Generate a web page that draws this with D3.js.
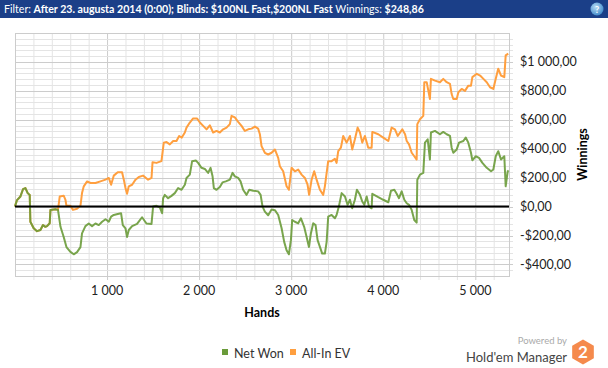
<!DOCTYPE html>
<html>
<head>
<meta charset="utf-8">
<script src="https://cdn.jsdelivr.net/npm/d3@7"></script>
<style>
  body { margin: 0; background: #fff; font-family: "Segoe UI", Lato, "Noto Sans", sans-serif; }
  #chart-area { width: 608px; height: 368px; }
</style>
</head>
<body>
<div id="chart-area"></div>
<script>
// header text
var filterParts = [
    { t: "Filter: ", b: false },
    { t: "After 23. augusta 2014 (0:00); Blinds: $100NL Fast,$200NL Fast", b: true },
    { t: " Winnings: ", b: false },
    { t: "$248,86", b: true }
];

var seriesNames = ["Net Won", "All-In EV"];
var seriesColors = ["#6a9b3a", "#ff9f3f"];

// Net Won (hands, $)
var netHands = [0, 4, 22, 59, 87, 113, 138, 160, 167, 203, 239, 276, 304, 330, 348, 377, 385, 439, 467,
    494, 529, 559, 602, 638, 674, 711, 728, 765, 801, 837, 874, 910, 946, 983, 1019, 1044, 1073, 1116,
    1152, 1171, 1200, 1217, 1236, 1272, 1326, 1380, 1428, 1483, 1500, 1537, 1573, 1598, 1609, 1627,
    1663, 1700, 1736, 1772, 1809, 1845, 1863, 1899, 1924, 1964, 1989, 2026, 2062, 2098, 2124, 2146,
    2160, 2189, 2225, 2254, 2290, 2334, 2363, 2388, 2424, 2450, 2478, 2515, 2544, 2587, 2641, 2668,
    2689, 2714, 2750, 2787, 2823, 2859, 2896, 2924, 2950, 2975, 2997, 3011, 3040, 3076, 3106, 3141,
    3167, 3193, 3214, 3239, 3265, 3287, 3312, 3337, 3366, 3385, 3402, 3439, 3475, 3493, 3518, 3548,
    3584, 3613, 3638, 3663, 3692, 3714, 3747, 3772, 3794, 3820, 3845, 3874, 3881, 3946, 4000, 4055,
    4084, 4120, 4146, 4171, 4200, 4229, 4255, 4280, 4309, 4337, 4363, 4370, 4399, 4435, 4453, 4483,
    4507, 4518, 4562, 4616, 4652, 4689, 4725, 4743, 4761, 4798, 4823, 4870, 4896, 4924, 4953, 4968,
    5005, 5040, 5077, 5124, 5171, 5196, 5222, 5249, 5279, 5315, 5330, 5352, 5362];
var netWon = [0, 10, 45, 70, 120, 128, 93, 80, -105, -150, -170, -162, -128, -140, -135, -115, -23, -18, -23,
    -140, -210, -280, -313, -330, -315, -280, -185, -135, -117, -135, -117, -128, -105, -88, -105, -70, -58, -51,
    -46, -128, -150, -210, -162, -135, -120, -74, -117, -120, 0, 5, -5, -46, 58, 81,
    58, 74, 93, 128, 116, 151, 198, 221, 314, 318, 302, 268, 260, 233, 268, 209,
    128, 116, 135, 167, 174, 186, 233, 209, 198, 174, 116, 81, 116, 110, 105, 81,
    0, -35, -60, -20, -25, -58, -150, -244, -302, -330, -232, -93, -105, -116, -81, -140,
    -209, -279, -186, -116, -128, -232, -279, -325, -325, -244, -70, -58, -81, -58, 0, 93,
    70, 12, 47, -12, 47, 116, 81, 35, 12, 70, 0, -12, 88, 65, 47, 30,
    110, 116, 88, 58, 105, 47, 23, 12, -23, -93, -111, 186, 221, 233, 442, 465,
    325, 512, 523, 500, 516, 500, 488, 407, 372, 395, 442, 453, 477, 442, 372, 320,
    348, 337, 302, 268, 244, 256, 348, 383, 325, 348, 140, 244, 249];

// All-In EV (hands, $)
var evHands = [0, 4, 22, 59, 87, 113, 138, 160, 167, 203, 239, 276, 304, 330, 348, 377, 385, 439, 467,
    486, 529, 548, 559, 602, 630, 674, 711, 728, 747, 783, 820, 874, 928, 983, 1019, 1044, 1073, 1116,
    1163, 1182, 1200, 1217, 1236, 1272, 1309, 1345, 1391, 1446, 1483, 1494, 1537, 1591, 1616, 1646,
    1682, 1718, 1754, 1783, 1812, 1845, 1863, 1899, 1935, 1978, 2008, 2044, 2081, 2116, 2152, 2189,
    2225, 2261, 2298, 2334, 2352, 2388, 2424, 2461, 2497, 2533, 2570, 2606, 2641, 2660, 2678, 2714,
    2750, 2787, 2823, 2859, 2877, 2913, 2950, 2975, 3004, 3040, 3076, 3113, 3149, 3178, 3195, 3222,
    3250, 3276, 3312, 3348, 3366, 3402, 3439, 3475, 3493, 3511, 3540, 3565, 3602, 3638, 3663, 3692,
    3722, 3747, 3772, 3801, 3837, 3874, 3881, 3946, 4000, 4055, 4091, 4127, 4157, 4207, 4237, 4255,
    4280, 4309, 4337, 4363, 4370, 4399, 4435, 4446, 4472, 4507, 4518, 4562, 4616, 4652, 4689, 4725,
    4743, 4761, 4798, 4816, 4852, 4888, 4924, 4953, 4968, 5016, 5052, 5088, 5124, 5160, 5196, 5222,
    5249, 5279, 5315, 5330, 5358];
var allInEV = [0, 10, 45, 70, 120, 128, 93, 80, -105, -150, -170, -162, -128, -140, -135, -115, -23, -18, -23,
    70, 75, 47, 5, 5, -23, -15, 5, 93, 140, 174, 163, 163, 174, 186, 198, 151, 214, 237,
    237, 186, 128, 88, 140, 151, 186, 205, 214, 186, 198, 307, 302, 314, 442, 446,
    430, 453, 453, 488, 477, 512, 546, 581, 609, 609, 581, 558, 534, 562, 512, 523,
    512, 534, 546, 570, 627, 616, 586, 558, 523, 534, 539, 553, 539, 500, 418, 372,
    360, 372, 395, 337, 279, 244, 140, 116, 268, 244, 256, 221, 198, 151, 81, 186,
    244, 186, 116, 81, 140, 314, 314, 330, 302, 383, 407, 488, 442, 488, 395, 465,
    546, 512, 442, 488, 407, 407, 516, 500, 477, 453, 546, 534, 488, 534, 500, 453,
    430, 372, 348, 325, 570, 604, 627, 860, 860, 744, 883, 871, 860, 883, 860, 848,
    778, 744, 744, 790, 813, 800, 836, 836, 895, 918, 906, 883, 860, 825, 813, 883,
    953, 906, 895, 1045, 1057];

var xTicks = [1000, 2000, 3000, 4000, 5000];
var yTicks = [-400, -200, 0, 200, 400, 600, 800, 1000];

var W = 608, H = 368;
var margin = { left: 15, right: 99, top: 33, bottom: 92 };
var width = W - margin.left - margin.right,
    height = H - margin.top - margin.bottom;

var loc = d3.formatLocale({ decimal: ",", thousands: "\u00a0", grouping: [3], currency: ["$", ""], minus: "-" });
var fmtY = loc.format("$,.2f");
var fmtX = loc.format(",d");

var font = "'Segoe UI', Lato, 'Noto Sans', sans-serif";

var svg = d3.select("#chart-area")
    .append("svg")
    .attr("width", W)
    .attr("height", H)
    .style("font-family", font);

// header bar
svg.append("rect")
    .attr("x", 0).attr("y", 0)
    .attr("width", W).attr("height", 18)
    .attr("fill", "#1b3f88");

var ht = svg.append("text")
    .attr("x", 4).attr("y", 13)
    .attr("fill", "#fff")
    .attr("font-size", "10.6px");
filterParts.forEach(function (p) {
    ht.append("tspan").attr("font-weight", p.b ? "bold" : "normal").text(p.t);
});

var grad = svg.append("defs").append("radialGradient").attr("id", "qg")
    .attr("cx", "40%").attr("cy", "35%").attr("r", "70%");
grad.append("stop").attr("offset", "0%").attr("stop-color", "#b9dcf5");
grad.append("stop").attr("offset", "100%").attr("stop-color", "#3a86c8");
svg.append("circle").attr("cx", 597).attr("cy", 9).attr("r", 6.5).attr("fill", "url(#qg)");
svg.append("text").attr("x", 597).attr("y", 12.5).attr("text-anchor", "middle")
    .attr("fill", "#fff").attr("font-size", "9px").attr("font-weight", "bold").text("?");

var g = svg.append("g")
    .attr("transform", "translate(" + margin.left + ", " + margin.top + ")");

var x = d3.scaleLinear().domain([0, 5366]).range([0, width]);
var y = d3.scaleLinear().domain([-480, 1200]).range([height, 0]);

// grid
var xMinor = d3.range(200, 5366, 200);
var yMinor = d3.range(-440, 1200, 40);

g.selectAll(".xminor").data(xMinor).enter().append("line")
    .attr("x1", function (d) { return x(d) + 0.5; })
    .attr("x2", function (d) { return x(d) + 0.5; })
    .attr("y1", 0).attr("y2", height + 4)
    .attr("stroke", function (d) { return d % 1000 == 0 ? "#cccccc" : "#e4e4e4"; });

g.selectAll(".yminor").data(yMinor).enter().append("line")
    .attr("x1", 0).attr("x2", width + 4)
    .attr("y1", function (d) { return Math.round(y(d)) + 0.5; })
    .attr("y2", function (d) { return Math.round(y(d)) + 0.5; })
    .attr("stroke", function (d) { return d % 200 == 0 ? "#cccccc" : "#e4e4e4"; });

g.append("rect")
    .attr("x", 0.5).attr("y", 0.5)
    .attr("width", width).attr("height", height)
    .attr("fill", "none").attr("stroke", "#cccccc");

// axes labels
g.selectAll(".xlab").data(xTicks).enter().append("text")
    .attr("x", function (d) { return x(d); })
    .attr("y", height + 19)
    .attr("text-anchor", "middle")
    .attr("font-size", "12.5px")
    .attr("fill", "#222")
    .text(function (d) { return fmtX(d); });

g.selectAll(".ylab").data(yTicks).enter().append("text")
    .attr("x", width + 11)
    .attr("y", function (d) { return y(d) + 4.5; })
    .attr("font-size", "12.5px")
    .attr("fill", "#222")
    .text(function (d) { return fmtY(d); });

g.append("text")
    .attr("x", width / 2)
    .attr("y", height + 41)
    .attr("text-anchor", "middle")
    .attr("font-size", "12.5px")
    .attr("font-weight", "bold")
    .text("Hands");

g.append("text")
    .attr("transform", "translate(" + (width + 78) + "," + (height / 2) + ") rotate(-90)")
    .attr("text-anchor", "middle")
    .attr("font-size", "12.5px")
    .attr("font-weight", "bold")
    .text("Winnings");

// lines
var line = d3.line()
    .x(function (d) { return x(d[0]); })
    .y(function (d) { return y(d[1]); });

g.append("path")
    .datum(d3.zip(evHands, allInEV))
    .attr("d", line)
    .attr("fill", "none")
    .attr("stroke", seriesColors[1])
    .attr("stroke-width", 2)
    .attr("stroke-linejoin", "round");

g.append("path")
    .datum(d3.zip(netHands, netWon))
    .attr("d", line)
    .attr("fill", "none")
    .attr("stroke", seriesColors[0])
    .attr("stroke-opacity", 0.9)
    .attr("stroke-width", 2)
    .attr("stroke-linejoin", "round");

// zero line
g.append("line")
    .attr("x1", 0).attr("x2", width)
    .attr("y1", y(0)).attr("y2", y(0))
    .attr("stroke", "#000").attr("stroke-width", 2);

// legend
var legX = [222, 290];
seriesNames.forEach(function (n, i) {
    svg.append("rect")
        .attr("x", legX[i]).attr("y", 349)
        .attr("width", 6).attr("height", 6)
        .attr("fill", seriesColors[i]);
    svg.append("text")
        .attr("x", legX[i] + 12).attr("y", 358)
        .attr("font-size", "12.5px")
        .attr("fill", "#333")
        .text(n);
});

// branding
svg.append("text").attr("x", 567).attr("y", 344).attr("text-anchor", "end")
    .attr("font-size", "9.5px").attr("fill", "#aaa").text("Powered by");
svg.append("text").attr("x", 567).attr("y", 362).attr("text-anchor", "end")
    .attr("font-size", "13px").attr("fill", "#444").text("Hold'em Manager");
var hex = d3.range(6).map(function (i) {
    var a = Math.PI / 3 * i - Math.PI / 2;
    return [583 + 12.5 * Math.cos(a), 352 + 12.5 * Math.sin(a)];
});
svg.append("polygon").attr("points", hex.join(" ")).attr("fill", "#f58a4c");
svg.append("text").attr("x", 583).attr("y", 358).attr("text-anchor", "middle")
    .attr("font-size", "17px").attr("font-weight", "bold").attr("fill", "#fff").text("2");
</script>
</body>
</html>
